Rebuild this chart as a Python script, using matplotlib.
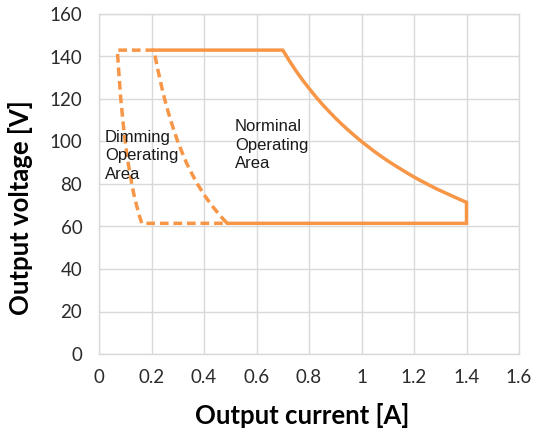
import matplotlib
matplotlib.use("Agg")
import matplotlib.pyplot as plt

# Nominal operating area boundary (solid): top edge, power-limit curve, right edge, bottom edge
nom_i = [0.21, 0.70, 0.725, 0.75, 0.775, 0.80, 0.825, 0.85, 0.875, 0.90, 0.925, 0.95, 0.975,
         1.00, 1.025, 1.05, 1.075, 1.10, 1.125, 1.15, 1.175, 1.20, 1.225, 1.25, 1.275,
         1.30, 1.325, 1.35, 1.375, 1.40, 1.40, 0.49]
nom_v = [143, 143, 138, 133.3, 129, 125, 121.2, 117.6, 114.3, 111.1, 108.1, 105.3, 102.6,
         100, 97.6, 95.2, 93, 90.9, 88.9, 87, 85.1, 83.3, 81.6, 80, 78.4,
         76.9, 75.5, 74.1, 72.7, 71.4, 61.5, 61.5]

# Dimming operating area boundary (dashed, closed loop)
dim_i = [0.21, 0.070, 0.0714, 0.074, 0.077, 0.080, 0.083, 0.087, 0.091, 0.095, 0.100, 0.105,
         0.111, 0.118, 0.125, 0.133, 0.143, 0.154, 0.163,
         0.488, 0.462, 0.429, 0.400, 0.375, 0.353, 0.333, 0.316, 0.300, 0.286, 0.273,
         0.261, 0.250, 0.240, 0.231, 0.222, 0.214, 0.210]
dim_v = [143, 143, 140, 135, 130, 125, 120, 115, 110, 105, 100, 95,
         90, 85, 80, 75, 70, 65, 61.5,
         61.5, 65, 70, 75, 80, 85, 90, 95, 100, 105, 110,
         115, 120, 125, 130, 135, 140, 143]

x_ticks = [0, 0.2, 0.4, 0.6, 0.8, 1, 1.2, 1.4, 1.6]
x_tick_labels = ["0", "0.2", "0.4", "0.6", "0.8", "1", "1.2", "1.4", "1.6"]
y_ticks = [0, 20, 40, 60, 80, 100, 120, 140, 160]

orange = "#F79646"
grid_c = "#D9D9D9"

fig = plt.figure(figsize=(5.38, 4.36), dpi=100)
ax = fig.add_axes([99/538, 82/436, 420/538, 340/436])

ax.plot(nom_i, nom_v, color=orange, lw=2.5, solid_joinstyle="miter", zorder=3)
ax.plot(dim_i, dim_v, color=orange, lw=2.5, ls=(0, (2.5, 1.4)), zorder=3)

ax.set_xlim(0, 1.6)
ax.set_ylim(0, 160)
ax.set_xticks(x_ticks)
ax.set_xticklabels(x_tick_labels)
ax.set_yticks(y_ticks)
ax.grid(True, color=grid_c, lw=1.0, zorder=0)
ax.set_axisbelow(True)
for s in ax.spines.values():
    s.set_color(grid_c)
    s.set_linewidth(1.0)
ax.tick_params(length=0, labelsize=13.5, labelcolor="#2b2b2b")
ax.tick_params(axis="y", pad=12)
ax.tick_params(axis="x", pad=11)
for lab in ax.get_xticklabels() + ax.get_yticklabels():
    lab.set_family("Lato")

ax.set_xlabel("Output current [A]", fontsize=18.5, fontweight="bold", family="Lato", color="#000000")
ax.set_ylabel("Output voltage [V]", fontsize=18.5, fontweight="bold", family="Lato", color="#000000")
ax.xaxis.set_label_coords(0.483, -0.18)
ax.xaxis.label.set_va("center")
ax.yaxis.set_label_coords(-0.188, 0.43)
ax.yaxis.label.set_va("center")

ax.text(0.023, 105.5, "Dimming\nOperating\nArea", fontsize=12, family="Liberation Sans",
        color="#1a1a1a", va="top", ha="left", linespacing=1.3, zorder=4)
ax.text(0.518, 110.5, "Norminal\nOperating\nArea", fontsize=12, family="Liberation Sans",
        color="#1a1a1a", va="top", ha="left", linespacing=1.3, zorder=4)

fig.savefig("out.png", dpi=100)
